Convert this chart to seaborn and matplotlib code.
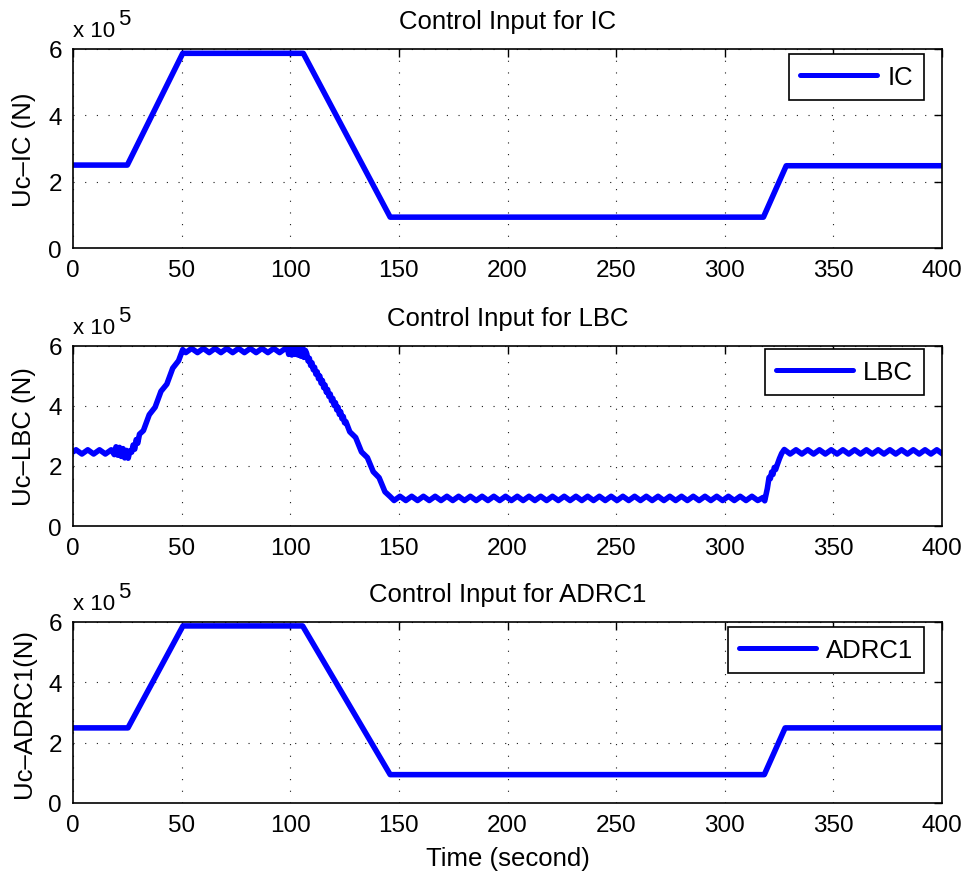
import matplotlib
matplotlib.use("Agg")
import numpy as np
import pandas as pd
import matplotlib.pyplot as plt
import seaborn as sns
from matplotlib.ticker import FuncFormatter

# ---------------------------------------------------------------------------
# Control input histories (time in s, force in units of 1e5 N)
# ---------------------------------------------------------------------------

# IC: piecewise-linear profile
ic_t = [0.0, 25.0, 50.5, 106.0, 146.0, 317.8, 328.3, 400.0]
ic_u = [2.50, 2.50, 5.87, 5.87, 0.93, 0.93, 2.48, 2.48]

# LBC: rippled response, segment by segment
lbc_start_t = [0.0, 1.4, 4.1, 6.8, 9.5, 12.2, 14.9, 17.6]
lbc_start_u = [2.47, 2.54, 2.40, 2.54, 2.40, 2.54, 2.40, 2.54]

lbc_kick_t = [19.0, 19.8, 20.6, 21.4, 22.2, 23.0, 23.8, 24.6, 25.4, 26.2]
lbc_kick_u = [2.38, 2.64, 2.36, 2.62, 2.32, 2.58, 2.27, 2.52, 2.26, 2.50]

lbc_rise_t = [27.0, 27.7, 28.4, 29.1, 29.8, 30.6, 32.4, 35.1, 37.8, 40.5,
              43.2, 45.9, 48.6, 50.5]
lbc_rise_u = [2.46, 2.70, 2.56, 2.88, 2.76, 3.06, 3.18, 3.71, 3.96, 4.49,
              4.73, 5.26, 5.51, 5.88]

lbc_top_t = [51.9, 54.6, 57.3, 60.0, 62.7, 65.4, 68.1, 70.8, 73.5, 76.2,
             78.9, 81.6, 84.3, 87.0, 89.7, 92.4, 95.1, 97.8]
lbc_top_u = [5.78, 5.92, 5.78, 5.92, 5.78, 5.92, 5.78, 5.92, 5.78, 5.92,
             5.78, 5.92, 5.78, 5.92, 5.78, 5.92, 5.78, 5.92]

lbc_peak_t = [98.6, 99.3, 100.0, 100.7, 101.4, 102.1, 102.8, 103.5, 104.2,
              104.9, 105.6, 106.3, 107.0]
lbc_peak_u = [5.95, 5.72, 6.02, 5.70, 6.08, 5.72, 6.12, 5.70, 6.10,
              5.66, 6.00, 5.62, 5.85]

lbc_fall_t = [107.6, 108.2, 108.8, 109.4, 110.0, 110.6, 111.2, 111.8, 112.4,
              113.0, 113.6, 114.2, 114.8, 115.4, 116.0, 116.6, 117.2, 117.8,
              118.4, 119.0, 119.6, 120.2, 120.8, 121.4, 122.0, 122.6, 123.2,
              123.8, 124.4, 125.0, 125.6, 127.4, 130.1, 132.8, 135.5, 138.2,
              140.9, 143.6, 146.0, 147.8]
lbc_fall_u = [5.74, 5.50, 5.59, 5.35, 5.44, 5.21, 5.29, 5.06, 5.14,
              4.91, 5.00, 4.76, 4.85, 4.61, 4.70, 4.46, 4.55, 4.32,
              4.40, 4.17, 4.25, 4.02, 4.11, 3.87, 3.96, 3.72, 3.81,
              3.58, 3.65, 3.44, 3.48, 3.14, 2.95, 2.47, 2.28, 1.81,
              1.61, 1.14, 0.98, 0.85]

lbc_low_t = [150.5, 153.2, 155.9, 158.6, 161.3, 164.0, 166.7, 169.4, 172.1,
             174.8, 177.5, 180.2, 182.9, 185.6, 188.3, 191.0, 193.7, 196.4,
             199.1, 201.8, 204.5, 207.2, 209.9, 212.6, 215.3, 218.0, 220.7,
             223.4, 226.1, 228.8, 231.5, 234.2, 236.9, 239.6, 242.3, 245.0,
             247.7, 250.4, 253.1, 255.8, 258.5, 261.2, 263.9, 266.6, 269.3,
             272.0, 274.7, 277.4, 280.1, 282.8, 285.5, 288.2, 290.9, 293.6,
             296.3, 299.0, 301.7, 304.4, 307.1, 309.8, 312.5, 315.2]
lbc_low_u = [0.99, 0.85, 0.99, 0.85, 0.99, 0.85, 0.99, 0.85, 0.99,
             0.85, 0.99, 0.85, 0.99, 0.85, 0.99, 0.85, 0.99, 0.85,
             0.99, 0.85, 0.99, 0.85, 0.99, 0.85, 0.99, 0.85, 0.99,
             0.85, 0.99, 0.85, 0.99, 0.85, 0.99, 0.85, 0.99, 0.85,
             0.99, 0.85, 0.99, 0.85, 0.99, 0.85, 0.99, 0.85, 0.99,
             0.85, 0.99, 0.85, 0.99, 0.85, 0.99, 0.85, 0.99, 0.85,
             0.99, 0.85, 0.99, 0.85, 0.99, 0.85, 0.99, 0.85]

lbc_step_t = [317.6, 318.4, 319.6, 320.4, 321.0, 321.6, 322.2, 322.8, 323.4,
              324.2, 325.2, 326.2, 327.4]
lbc_step_u = [0.95, 0.84, 1.25, 1.62, 1.58, 1.80, 1.72, 1.95, 1.88,
              2.05, 2.25, 2.42, 2.55]

lbc_end_t = [330.1, 332.8, 335.5, 338.2, 340.9, 343.6, 346.3, 349.0, 351.7,
             354.4, 357.1, 359.8, 362.5, 365.2, 367.9, 370.6, 373.3, 376.0,
             378.7, 381.4, 384.1, 386.8, 389.5, 392.2, 394.9, 397.6, 400.3]
lbc_end_u = [2.40, 2.54, 2.40, 2.54, 2.40, 2.54, 2.40, 2.54, 2.40,
             2.54, 2.40, 2.54, 2.40, 2.54, 2.40, 2.54, 2.40, 2.54,
             2.40, 2.54, 2.40, 2.54, 2.40, 2.54, 2.40, 2.54, 2.40]

# ADRC1: piecewise-linear profile
adrc_t = [0.0, 25.3, 50.6, 105.7, 146.0, 318.2, 327.8, 400.0]
adrc_u = [2.49, 2.49, 5.87, 5.87, 0.94, 0.94, 2.49, 2.49]

titles = ["Control Input for IC", "Control Input for LBC", "Control Input for ADRC1"]
ylabels = ["Uc\u2013IC (N)", "Uc\u2013LBC (N)", "Uc\u2013ADRC1(N)"]
series_names = ["IC", "LBC", "ADRC1"]
x_ticks = [0, 50, 100, 150, 200, 250, 300, 350, 400]
y_ticks = [0, 2, 4, 6]
SCALE = 1e5

lbc_t = (lbc_start_t + lbc_kick_t + lbc_rise_t + lbc_top_t + lbc_peak_t
         + lbc_fall_t + lbc_low_t + lbc_step_t + lbc_end_t)
lbc_u = (lbc_start_u + lbc_kick_u + lbc_rise_u + lbc_top_u + lbc_peak_u
         + lbc_fall_u + lbc_low_u + lbc_step_u + lbc_end_u)

frames = [
    pd.DataFrame({"time": ic_t, "force": np.array(ic_u) * SCALE}),
    pd.DataFrame({"time": lbc_t, "force": np.array(lbc_u) * SCALE}),
    pd.DataFrame({"time": adrc_t, "force": np.array(adrc_u) * SCALE}),
]

# ---------------------------------------------------------------------------
# Style
# ---------------------------------------------------------------------------
sns.set_style("white")
plt.rcParams["font.family"] = ["Liberation Sans", "DejaVu Sans"]
plt.rcParams["axes.unicode_minus"] = False
for key in ["text.color", "axes.labelcolor", "xtick.color", "ytick.color"]:
    plt.rcParams[key] = "black"

W, H = 975, 879
fig = plt.figure(figsize=(W / 100, H / 100), dpi=100)


def px_box(left, top, right, bottom):
    return [left / W, 1 - bottom / H, (right - left) / W, (bottom - top) / H]


axes_px = [(73, 50, 942, 249), (73, 347, 942, 527), (73, 623, 942, 804)]
legend_anchor = [(924, 55), (924, 350), (924, 628)]

TICK_FS = 17.5
TEXT_FS = 18.5
EXP_FS = 16

for i, df in enumerate(frames):
    ax = fig.add_axes(px_box(*axes_px[i]))
    sns.lineplot(data=df, x="time", y="force", ax=ax, color=(0, 0, 1),
                 linewidth=4.0, sort=False, estimator=None,
                 label=series_names[i], solid_joinstyle="round")
    ax.set_xlim(0, 400)
    ax.set_ylim(0, 6 * SCALE)
    ax.set_xticks(x_ticks)
    ax.set_yticks([v * SCALE for v in y_ticks])
    ax.yaxis.set_major_formatter(FuncFormatter(lambda v, p: f"{v / SCALE:g}"))
    ax.grid(True, color="0.1", linestyle=(0, (1, 9.5)), linewidth=0.8)
    ax.tick_params(direction="in", length=6, width=1.0, top=True, right=True,
                   labelsize=TICK_FS, colors="black")
    ax.tick_params(axis="y", pad=8)
    ax.tick_params(axis="x", pad=8)
    for s in ax.spines.values():
        s.set_visible(True)
        s.set_color("black")
        s.set_linewidth(1.2)
    ax.set_title(titles[i], fontsize=TEXT_FS, pad=15)
    ax.set_ylabel(ylabels[i], fontsize=TEXT_FS, labelpad=9)
    if i == 2:
        ax.set_xlabel("Time (second)", fontsize=TEXT_FS, labelpad=7)
    else:
        ax.set_xlabel("")
    lx, ly = legend_anchor[i]
    leg = ax.legend(loc="upper right", bbox_to_anchor=(lx / W, 1 - ly / H),
                    bbox_transform=fig.transFigure, fontsize=TEXT_FS,
                    frameon=True, fancybox=False, framealpha=1,
                    edgecolor="black", borderaxespad=0, borderpad=0.42,
                    handlelength=3.0, handletextpad=0.4)
    leg.get_frame().set_linewidth(1.2)
    for ln in leg.get_lines():
        ln.set_linewidth(3.6)

    # exponent label drawn above the y axis
    top_px = axes_px[i][1]
    fig.text(73 / W, 1 - (top_px - 13) / H, "x 10", fontsize=EXP_FS,
             ha="left", va="baseline")
    fig.text(118 / W, 1 - (top_px - 25) / H, "5", fontsize=EXP_FS,
             ha="left", va="baseline")

fig.savefig("out.png", dpi=100)
